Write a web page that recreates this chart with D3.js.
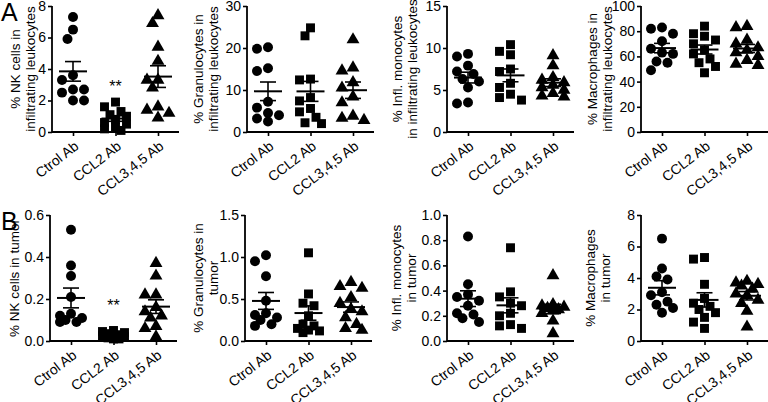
<!DOCTYPE html>
<html>
<head>
<meta charset="utf-8">
<script src="https://cdn.jsdelivr.net/npm/d3@7"></script>
<style>
  body { margin: 0; background: #fff; }
  svg { display: block; font-family: "Liberation Sans", Arial, Helvetica, sans-serif; }
</style>
</head>
<body>
<svg width="768" height="402"></svg>
<script>
var categories = ["Ctrol Ab", "CCL2 Ab", "CCL3,4,5 Ab"];

// Row A: % of infiltrating leukocytes (one array per group: Ctrol, CCL2, CCL3,4,5)
var nkInfil = [
  [7.3, 6.5, 5.9, 3.6, 3.3, 2.7, 2.7, 2.5, 2.0, 2.0],
  [1.9, 1.6, 1.3, 1.1, 1.0, 0.8, 0.6, 0.5, 0.3, 0.2, 0.1],
  [7.4, 6.9, 5.4, 4.5, 3.3, 3.3, 2.8, 1.6, 1.4, 1.2, 0.9]
];
var granInfil = [
  [20.2, 19.8, 15.2, 14.5, 7.2, 5.8, 4.5, 4.0, 3.2, 2.5],
  [24.8, 22.9, 12.6, 12.4, 8.2, 7.4, 5.6, 4.8, 3.5, 2.2, 2.0],
  [22.0, 15.3, 14.6, 11.8, 10.5, 8.4, 7.0, 3.8, 3.3, 2.8]
];
var monoInfil = [
  [9.3, 9.0, 7.9, 7.2, 6.9, 6.3, 6.0, 5.3, 3.5, 3.4],
  [10.4, 9.6, 9.2, 7.5, 7.2, 5.8, 5.3, 4.5, 4.1, 3.8],
  [9.1, 7.9, 6.5, 6.2, 5.9, 5.6, 5.3, 5.0, 4.6, 4.3, 4.2]
];
var macInfil = [
  [83, 82, 78, 72, 66, 63, 62, 56, 55, 49],
  [84, 78, 76, 73, 70, 65, 62, 58, 55, 52, 47],
  [84, 83, 73, 70, 67, 65, 63, 60, 57, 54, 53]
];

// Row B: % in tumor
var nkTumor = [
  [0.53, 0.36, 0.31, 0.21, 0.13, 0.12, 0.11, 0.10, 0.09, 0.09],
  [0.05, 0.045, 0.04, 0.035, 0.03, 0.03, 0.025, 0.02, 0.015, 0.01, 0.01],
  [0.37, 0.31, 0.22, 0.22, 0.16, 0.14, 0.12, 0.11, 0.07, 0.06, 0.02]
];
var granTumor = [
  [1.02, 0.95, 0.77, 0.48, 0.33, 0.31, 0.28, 0.25, 0.20, 0.18],
  [1.05, 0.56, 0.45, 0.42, 0.30, 0.20, 0.18, 0.15, 0.13, 0.12, 0.10],
  [0.70, 0.65, 0.63, 0.52, 0.45, 0.38, 0.35, 0.28, 0.20, 0.15, 0.13]
];
var monoTumor = [
  [0.83, 0.45, 0.37, 0.35, 0.32, 0.28, 0.22, 0.21, 0.18, 0.15],
  [0.74, 0.39, 0.35, 0.30, 0.28, 0.22, 0.20, 0.13, 0.12, 0.10],
  [0.52, 0.29, 0.28, 0.27, 0.26, 0.25, 0.24, 0.22, 0.16, 0.06]
];
var macTumor = [
  [6.5, 4.6, 4.1, 3.9, 3.1, 2.9, 2.5, 2.3, 2.1, 1.8],
  [5.3, 5.2, 3.6, 2.7, 2.4, 2.2, 2.0, 1.8, 1.5, 1.2, 0.8],
  [3.8, 3.7, 3.6, 3.5, 3.3, 3.0, 2.9, 2.6, 2.4, 1.9, 0.9]
];

// significance marks: which group, at what value
var starsInfil = { group: 1, at: 3.1, label: "**" };
var starsTumor = { group: 1, at: 0.185, label: "**" };

// Panel layout (axis x, row, y domain, ticks, titles)
var rows = [ { top: 6, bottom: 132, letter: "A" }, { top: 215, bottom: 341, letter: "B" } ];
var panels = [
  { data: nkInfil,   row: 0, x0: 52,  max: 8,   ticks: [0,2,4,6,8],          fmt: d3.format("d"),  title: ["% NK cells in", "infiltrating leukocytes"], tx: [15, 30], stars: starsInfil },
  { data: granInfil, row: 0, x0: 247, max: 30,  ticks: [0,10,20,30],         fmt: d3.format("d"),  title: ["% Granulocytes in", "infiltrating leukocytes"], tx: [198, 213] },
  { data: monoInfil, row: 0, x0: 447, max: 15,  ticks: [0,5,10,15],          fmt: d3.format("d"),  title: ["% Infl. monocytes", "in infiltrating leukocytes"], tx: [397, 412] },
  { data: macInfil,  row: 0, x0: 641, max: 100, ticks: [0,20,40,60,80,100],  fmt: d3.format("d"),  title: ["% Macrophages in", "infiltrating leukocytes"], tx: [592, 607] },
  { data: nkTumor,   row: 1, x0: 50,  max: 0.6, ticks: [0,0.2,0.4,0.6],      fmt: d3.format(".1f"), title: ["% NK cells in tumor"], tx: [14], stars: starsTumor },
  { data: granTumor, row: 1, x0: 245, max: 1.5, ticks: [0,0.5,1.0,1.5],      fmt: d3.format(".1f"), title: ["% Granulocytes in", "tumor"], tx: [198, 213] },
  { data: monoTumor, row: 1, x0: 447, max: 1.0, ticks: [0,0.2,0.4,0.6,0.8,1.0], fmt: d3.format(".1f"), title: ["% Infl. monocytes", "in tumor"], tx: [396, 411] },
  { data: macTumor,  row: 1, x0: 641, max: 8,   ticks: [0,2,4,6,8],          fmt: d3.format("d"),  title: ["% Macrophages", "in tumor"], tx: [590, 605] }
];

var shapes = [d3.symbolCircle, d3.symbolSquare, d3.symbolTriangle];
var sizes = [78, 80, 72];

var svg = d3.select("svg");

// Panel letters
rows.forEach(function(r) {
  svg.append("text")
    .attr("x", 1).attr("y", r.top + 15)
    .attr("font-size", 25)
    .text(r.letter);
});

// spread points sideways where they would collide (prism-like scatter)
function swarm(vals, y, cx) {
  var pts = vals.map(function(v) { return { v: v, py: y(v) }; })
    .sort(function(a, b) { return b.v - a.v; });
  var cands = [0, -5.5, 5.5, -11, 11];
  var placed = [];
  pts.forEach(function(p) {
    var best = 0, bestD = -1;
    for (var i = 0; i < cands.length; i++) {
      var px = cx + cands[i];
      var d = d3.min(placed, function(q) { return Math.hypot(px - q.px, p.py - q.py); });
      if (d === undefined) d = Infinity;
      if (d >= 9.5) { best = cands[i]; bestD = d; break; }
      if (d > bestD) { bestD = d; best = cands[i]; }
    }
    p.px = cx + best;
    placed.push(p);
  });
  return pts;
}

panels.forEach(function(p) {
  var r = rows[p.row];
  var g = svg.append("g");

  var y = d3.scaleLinear().domain([0, p.max]).range([r.bottom, r.top]);
  var x = d3.scalePoint().domain(categories).range([p.x0 + 21, p.x0 + 106]);

  // y axis
  var ya = g.append("g")
    .attr("transform", "translate(" + p.x0 + ",0)")
    .call(d3.axisLeft(y).tickValues(p.ticks).tickFormat(p.fmt).tickSize(4).tickSizeOuter(0).tickPadding(2));
  ya.select(".domain").remove();
  ya.selectAll("line").attr("stroke-width", 1.6);
  ya.selectAll("text").attr("font-size", 14).attr("font-family", null).attr("fill", "#000");

  // x axis
  var xa = g.append("g")
    .attr("transform", "translate(0," + r.bottom + ")")
    .call(d3.axisBottom(x).tickSize(4).tickSizeOuter(0));
  xa.select(".domain").remove();
  xa.selectAll("line").attr("stroke-width", 1.6);
  xa.selectAll("text")
    .attr("font-size", 14).attr("font-family", null).attr("fill", "#000")
    .attr("x", 0).attr("y", 0).attr("dy", "0.35em")
    .attr("text-anchor", "end")
    .attr("transform", "translate(3,12) rotate(-38)");

  g.append("line")
    .attr("x1", p.x0).attr("x2", p.x0)
    .attr("y1", r.bottom).attr("y2", r.top)
    .attr("stroke", "#000").attr("stroke-width", 1.8);
  g.append("line")
    .attr("x1", p.x0).attr("x2", p.x0 + 127)
    .attr("y1", r.bottom).attr("y2", r.bottom)
    .attr("stroke", "#000").attr("stroke-width", 1.8);

  // y title
  var cy = (r.top + r.bottom) / 2;
  p.title.forEach(function(t, i) {
    g.append("text")
      .attr("transform", "translate(" + p.tx[i] + "," + cy + ") rotate(-90)")
      .attr("text-anchor", "middle")
      .attr("dy", "0.35em")
      .attr("font-size", 13.5)
      .text(t);
  });

  // groups
  p.data.forEach(function(vals, gi) {
    var cx = x(categories[gi]);
    var pts = swarm(vals, y, cx);
    g.selectAll(null)
      .data(pts)
      .enter().append("path")
      .attr("d", d3.symbol().type(shapes[gi]).size(sizes[gi]))
      .attr("transform", function(d) { return "translate(" + d.px + "," + d.py + ")"; })
      .attr("fill", "#000");

    var m = d3.mean(vals);
    var sem = d3.deviation(vals) / Math.sqrt(vals.length);
    g.append("line")
      .attr("x1", cx - 14).attr("x2", cx + 14)
      .attr("y1", y(m)).attr("y2", y(m))
      .attr("stroke", "#000").attr("stroke-width", 2);
    g.append("line")
      .attr("x1", cx).attr("x2", cx)
      .attr("y1", y(m - sem)).attr("y2", y(m + sem))
      .attr("stroke", "#000").attr("stroke-width", 1.6);
    [m - sem, m + sem].forEach(function(v) {
      g.append("line")
        .attr("x1", cx - 8).attr("x2", cx + 8)
        .attr("y1", y(v)).attr("y2", y(v))
        .attr("stroke", "#000").attr("stroke-width", 1.6);
    });
  });

  if (p.stars) {
    g.append("text")
      .attr("x", x(categories[p.stars.group]))
      .attr("y", y(p.stars.at) + 9)
      .attr("text-anchor", "middle")
      .attr("font-size", 16)
      .text(p.stars.label);
  }
});
</script>
</body>
</html>
